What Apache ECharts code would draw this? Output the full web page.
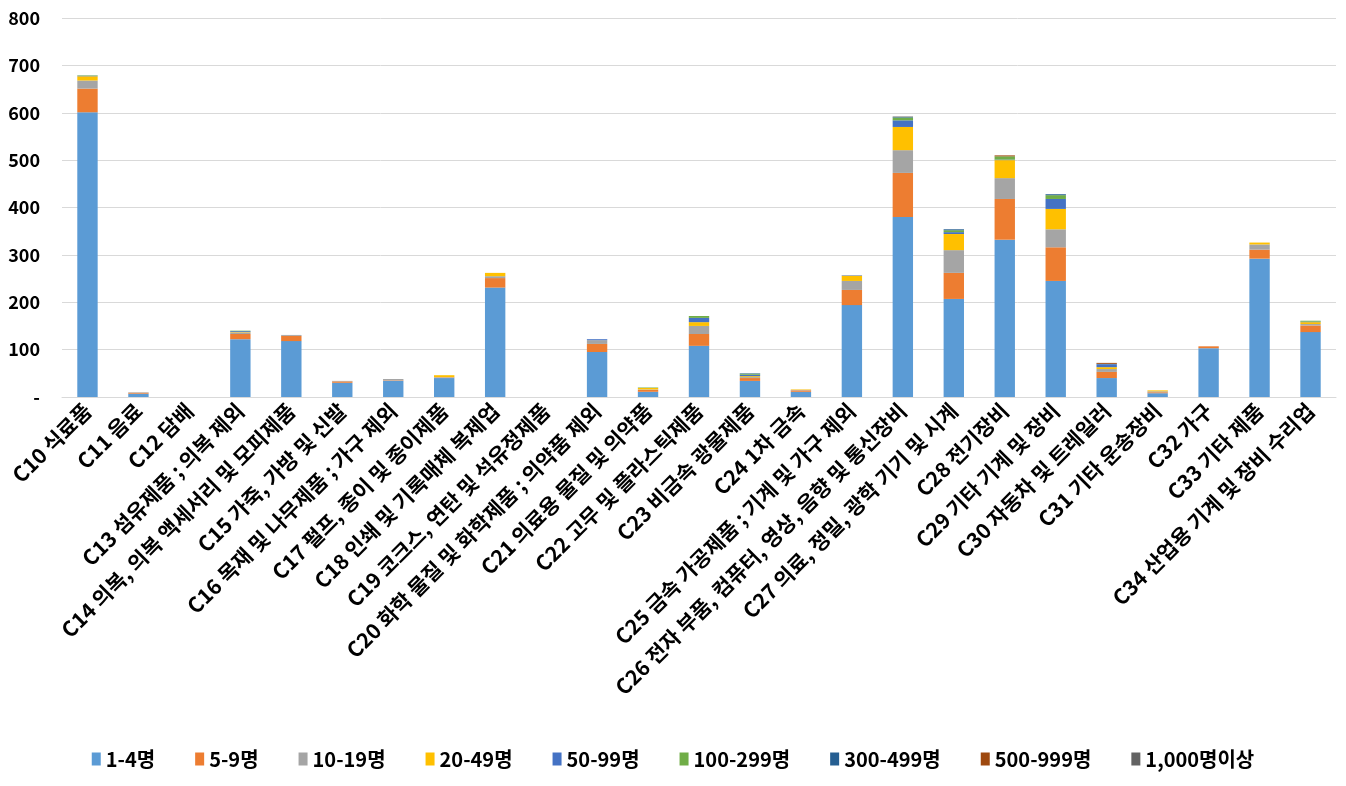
<!DOCTYPE html>
<html>
<head>
<meta charset="utf-8">
<script src="https://cdn.jsdelivr.net/npm/echarts@6/dist/echarts.min.js"></script>
<style>
html,body{margin:0;padding:0;background:#fff;}
#chart{width:1346px;height:786px;}
</style>
</head>
<body>
<div id="chart"></div>
<script>
const categories = [
  'C10 식료품','C11 음료','C12 담배','C13 섬유제품 ; 의복 제외',
  'C14 의복, 의복 액세서리 및 모피제품','C15 가죽, 가방 및 신발',
  'C16 목재 및 나무제품 ; 가구 제외','C17 펄프, 종이 및 종이제품',
  'C18 인쇄 및 기록매체 복제업','C19 코크스, 연탄 및 석유정제품',
  'C20 화학 물질 및 화학제품 ; 의약품 제외','C21 의료용 물질 및 의약품',
  'C22 고무 및 플라스틱제품','C23 비금속 광물제품','C24 1차 금속',
  'C25 금속 가공제품 ; 기계 및 가구 제외',
  'C26 전자 부품, 컴퓨터, 영상, 음향 및 통신장비',
  'C27 의료, 정밀, 광학 기기 및 시계','C28 전기장비',
  'C29 기타 기계 및 장비','C30 자동차 및 트레일러','C31 기타 운송장비',
  'C32 가구','C33 기타 제품','C34 산업용 기계 및 장비 수리업'
];
const seriesNames = ['1-4명','5-9명','10-19명','20-49명','50-99명','100-299명','300-499명','500-999명','1,000명이상'];
const s1_4     = [601, 7, 0, 122, 118, 30, 34, 40, 231, 0, 95, 11, 108, 34, 11, 194, 380, 207, 332, 245, 40, 8, 103, 292, 137];
const s5_9     = [50, 2, 0, 11, 11, 3, 1, 1, 20, 0, 17, 4, 25, 6, 3, 32, 93, 55, 86, 71, 13, 2, 4, 19, 14];
const s10_19   = [17, 1, 0, 3, 2, 1, 3, 1, 4, 0, 8, 1, 17, 2, 1, 19, 48, 48, 44, 38, 6, 2, 0, 11, 3];
const s20_49   = [9, 0, 0, 1, 0, 0, 0, 4, 7, 0, 0, 3, 8, 2, 1, 11, 49, 34, 38, 43, 4, 2, 0, 4, 4];
const s50_99   = [1, 0, 0, 2, 0, 0, 0, 0, 0, 0, 2, 0, 9, 3, 0, 1, 14, 4, 1, 21, 6, 0, 0, 0, 1];
const s100_299 = [1, 0, 0, 1, 0, 0, 0, 0, 0, 0, 0, 1, 4, 2, 0, 0, 6, 4, 7, 8, 0, 0, 0, 0, 2];
const s300_499 = [0, 0, 0, 0, 0, 0, 0, 0, 0, 0, 0, 0, 0, 1, 0, 0, 1, 2, 0, 2, 1, 0, 0, 0, 0];
const s500_999 = [0, 0, 0, 0, 0, 0, 0, 0, 0, 0, 0, 0, 0, 0, 0, 0, 0, 0, 2, 0, 2, 0, 0, 0, 0];
const s1000    = [0, 0, 0, 0, 0, 0, 0, 0, 0, 0, 0, 0, 0, 0, 0, 0, 1, 0, 0, 0, 0, 0, 0, 0, 0];
const yTicks = [0, 100, 200, 300, 400, 500, 600, 700, 800];

const seriesData = [s1_4, s5_9, s10_19, s20_49, s50_99, s100_299, s300_499, s500_999, s1000];
const colors = ['#5B9BD5','#ED7D31','#A5A5A5','#FFC000','#4472C4','#70AD47','#255E91','#9E480E','#636363'];
const font = '"Noto Sans CJK KR", "Noto Sans", sans-serif';

const chart = echarts.init(document.getElementById('chart'));
chart.setOption({
  animation: false,
  color: colors,
  textStyle: { fontFamily: font },
  grid: { left: 62, right: 10, top: 18, bottom: 389, containLabel: false },
  legend: {
    bottom: 12,
    left: 'center',
    itemWidth: 9,
    itemHeight: 13,
    itemGap: 40,
    icon: 'rect',
    textStyle: { fontFamily: font, fontSize: 20, fontWeight: 'bold', color: '#000' },
    data: seriesNames
  },
  xAxis: {
    type: 'category',
    data: categories,
    axisLine: { lineStyle: { color: '#D9D9D9', width: 1 } },
    axisTick: { show: false },
    axisLabel: {
      interval: 0,
      rotate: 45,
      margin: 10,
      fontFamily: font,
      fontSize: 21,
      fontWeight: 'bold',
      color: '#000'
    }
  },
  yAxis: {
    type: 'value',
    min: yTicks[0],
    max: yTicks[yTicks.length - 1],
    interval: 100,
    axisLine: { show: false },
    axisTick: { show: false },
    splitLine: { lineStyle: { color: '#D9D9D9', width: 1 } },
    axisLabel: {
      margin: 22,
      fontFamily: font,
      fontSize: 18,
      fontWeight: 'bold',
      color: '#000',
      formatter: v => v === 0 ? '-' : String(v)
    }
  },
  series: seriesNames.map((name, i) => ({
    name,
    type: 'bar',
    stack: 'total',
    barWidth: '40%',
    data: seriesData[i]
  }))
});
</script>
</body>
</html>
